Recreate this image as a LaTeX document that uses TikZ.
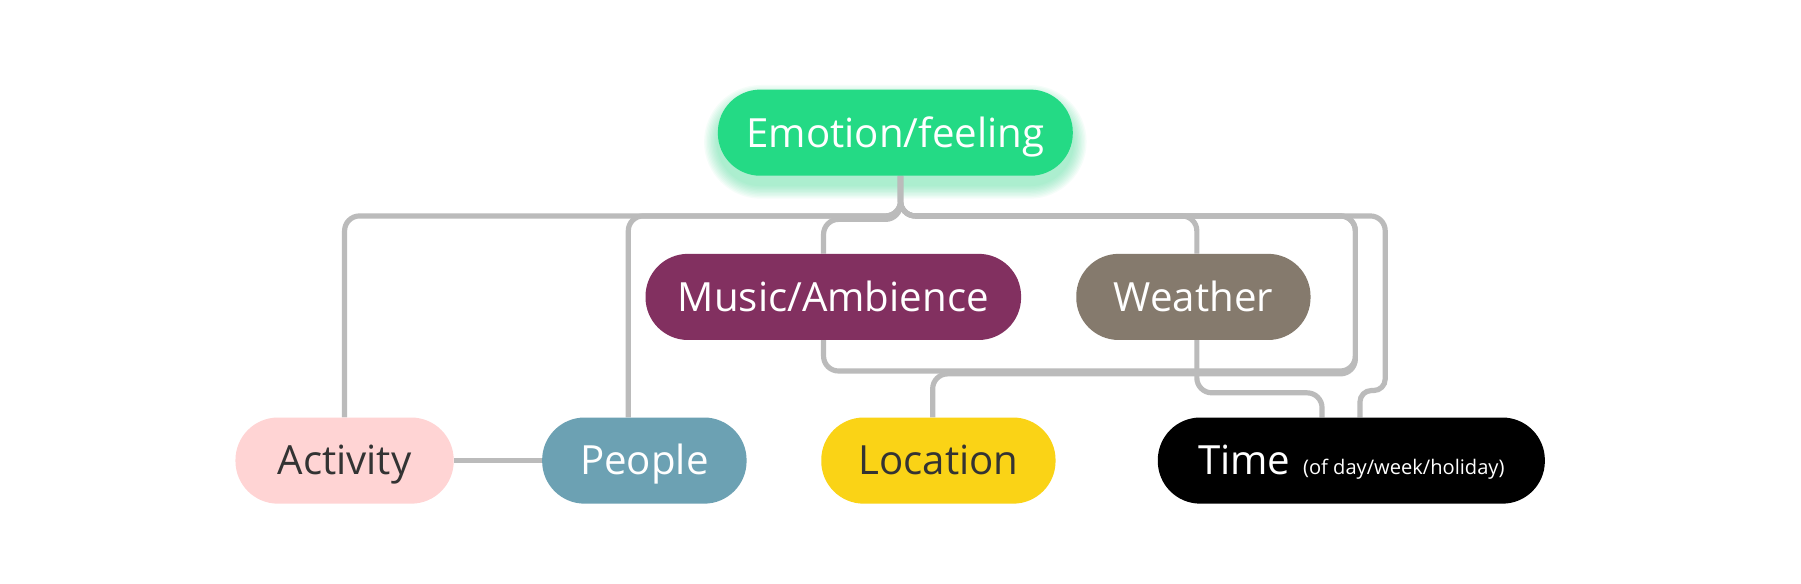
\documentclass[tikz,border=0pt]{standalone}
\usepackage{fontspec}
\setmainfont{Open Sans}
\usetikzlibrary{calc}
\pgfdeclarelayer{back}
\pgfdeclarelayer{lines}
\pgfsetlayers{back,lines,main}
\definecolor{emo}{HTML}{24DA85}
\definecolor{mus}{HTML}{823060}
\definecolor{wea}{HTML}{857A6D}
\definecolor{actc}{HTML}{FFD4D4}
\definecolor{pplc}{HTML}{6CA1B3}
\definecolor{locc}{HTML}{FAD316}
\definecolor{linegray}{HTML}{BBBBBB}
\definecolor{darktext}{HTML}{333333}
\begin{document}
\begin{tikzpicture}[x=1pt,y=-1pt,
  conn/.style={draw=linegray, line width=4.5pt, rounded corners=13pt},
  pill/.style={rounded corners=37pt, minimum height=75pt, inner sep=0pt,
    font=\fontsize{35}{40}\selectfont, text height=25pt, text depth=0pt}]
\useasboundingbox (0,0) rectangle (1568,508.4);
\begin{pgfonlayer}{back}
  \fill[white] (0,0) rectangle (1568,508.4);
  \foreach \i in {1,...,10} {
    \pgfmathsetmacro{\d}{\i*1.2}
    \pgfmathsetmacro{\rr}{37.5+\d}
    \fill[emo, fill opacity=0.045, rounded corners=\rr pt] (625-\d,86-\d) rectangle (934+\d,161+\d);
  }
\end{pgfonlayer}

\node[pill, fill=emo, text=white, minimum width=309pt] (emo) at (779.5,115.5) {Emotion/feeling};
\node[pill, fill=mus, text=white, minimum width=327pt] (mus) at (725.5,258.5) {Music/Ambience};
\node[pill, fill=wea, text=white, minimum width=204pt] (wea) at (1039,258.5) {Weather};
\node[pill, fill=actc, text=darktext, minimum width=190pt] (act) at (300,401) {Activity};
\node[pill, fill=pplc, text=white, minimum width=178pt] (ppl) at (561,401) {People};
\node[pill, fill=locc, text=darktext, minimum width=204pt] (loc) at (817,401) {Location};
\node[pill, fill=black, text=white, minimum width=337pt] (tim) at (1176.5,401)
  {Time\hspace{11pt}{\fontsize{17.5}{20}\selectfont(of day/week/holiday)}};

\coordinate (stem) at ([xshift=4.5pt]emo.south);
\coordinate (pA) at ([xshift=-14pt]ppl.north);
\coordinate (mA) at ([xshift=-8.5pt]mus.north);
\coordinate (mB) at ([xshift=-8.5pt]mus.south);
\coordinate (wA) at ([xshift=3pt]wea.north);
\coordinate (wB) at ([xshift=3pt]wea.south);
\coordinate (lA) at ([xshift=-5pt]loc.north);
\coordinate (tA) at ([xshift=-25.5pt]tim.north);
\coordinate (tB) at ([xshift=7.5pt]tim.north);

\begin{pgfonlayer}{lines}
  % Emotion -> Activity
  \draw[conn] (stem) -- (stem |- 0,188) -- (act.north |- 0,188) -- (act.north);
  % Emotion -> People
  \draw[conn] (stem) -- (stem |- 0,188) -- (pA |- 0,188) -- (pA);
  % Emotion -> Music
  \draw[conn] (stem) -- (stem |- 0,191) -- (mA |- 0,191) -- (mA);
  % Emotion -> Weather
  \draw[conn] (stem) -- (stem |- 0,188) -- (wA |- 0,188) -- (wA);
  % Emotion -> Location
  \draw[conn] (stem) -- (stem |- 0,188) -- (1180,188) -- (1180,325.5) -- (lA |- 0,325.5) -- (lA);
  % Music -> Emotion (routed around)
  \draw[conn] (mB) -- (mB |- 0,323) -- (1180,323) -- (1180,188) -- (stem |- 0,188) -- (stem);
  % Emotion -> Time
  \draw[conn] (stem) -- (stem |- 0,188) -- (1206,188) [rounded corners=10pt] -- (1206,340) -- (tB |- 0,340) -- (tB);
  % Weather -> Time
  \draw[conn] (wB) -- (wB |- 0,342) -- (tA |- 0,342) -- (tA);
  % Activity -- People
  \draw[draw=linegray, line width=4.5pt] (act.east) -- (ppl.west);
\end{pgfonlayer}
\end{tikzpicture}
\end{document}
